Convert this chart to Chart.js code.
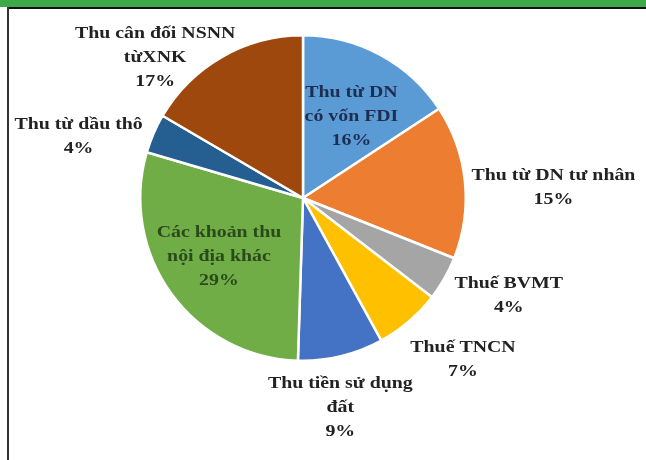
<!DOCTYPE html>
<html>
<head>
<meta charset="utf-8">
<script src="https://cdn.jsdelivr.net/npm/chart.js@4"></script>
<style>
  html, body { margin: 0; padding: 0; background: #fff; }
  #wrap { position: relative; width: 646px; height: 460px; overflow: hidden; background: #fff; }
  #topbar { position: absolute; left: 0; top: 0; width: 646px; height: 7px; background: #3daa4a; }
  #topline { position: absolute; left: 7px; top: 7px; width: 639px; height: 2px; background: #111; }
  #leftline { position: absolute; left: 7px; top: 7px; width: 2px; height: 453px; background: #333; }
  canvas { position: absolute; left: 0; top: 0; }
</style>
</head>
<body>
<div id="wrap">
  <canvas id="c" width="646" height="460"></canvas>
  <div id="topbar"></div>
  <div id="topline"></div>
  <div id="leftline"></div>
</div>
<script>
// ---- data ----
const categories = [
  ["Thu từ DN", "có vốn FDI"],
  ["Thu từ DN tư nhân"],
  ["Thuế BVMT"],
  ["Thuế TNCN"],
  ["Thu tiền sử dụng", "đất"],
  ["Các khoản thu", "nội địa khác"],
  ["Thu từ dầu thô"],
  ["Thu cân đối NSNN", "từXNK"]
];
const values = [15.8, 15.3, 4.4, 6.6, 8.5, 29.1, 3.9, 16.6];
const percentLabels = ["16%", "15%", "4%", "7%", "9%", "29%", "4%", "17%"];

// ---- styles ----
const colors = ["#5b9bd5", "#ed7d31", "#a5a5a5", "#ffc000", "#4472c4", "#70ad47", "#255e91", "#9e480e"];
const textColors = ["#1f2d4f", "#222", "#222", "#222", "#222", "#2b4a1c", "#222", "#222"];
// label placement: [radius factor, angle offset in degrees]
const placement = [[0.58, 2.5], [1.54, 3.5], [1.40, -4.2], [1.40, -4], [1.31, 3.4], [0.63, 1], [1.43, -8], [1.25, -16.8]];

const labelPlugin = {
  id: 'sliceLabels',
  afterDatasetsDraw(chart) {
    const ctx = chart.ctx;
    const meta = chart.getDatasetMeta(0);
    const sx = 1.24;
    ctx.save();
    ctx.font = "bold 16px 'Liberation Serif', 'DejaVu Serif', serif";
    ctx.textAlign = 'center';
    ctx.textBaseline = 'middle';
    meta.data.forEach((arc, i) => {
      const p = arc.getProps(['x', 'y', 'startAngle', 'endAngle', 'outerRadius'], true);
      const mid = (p.startAngle + p.endAngle) / 2 + placement[i][1] * Math.PI / 180;
      const r = p.outerRadius * placement[i][0];
      const cx = p.x + Math.cos(mid) * r;
      const cy = p.y + Math.sin(mid) * r;
      const lines = categories[i].concat([percentLabels[i]]);
      const lh = 24;
      const y0 = cy - (lines.length - 1) * lh / 2;
      ctx.fillStyle = textColors[i];
      lines.forEach((t, j) => {
        ctx.save();
        ctx.translate(cx, y0 + j * lh);
        ctx.scale(sx, 1);
        ctx.fillText(t, 0, 0);
        ctx.restore();
      });
    });
    ctx.restore();
  }
};

new Chart(document.getElementById('c'), {
  type: 'pie',
  data: {
    labels: categories.map(c => c.join(' ')),
    datasets: [{
      data: values,
      backgroundColor: colors,
      borderColor: '#ffffff',
      borderWidth: 2.5
    }]
  },
  options: {
    responsive: false,
    animation: false,
    layout: { padding: { left: 139, right: 179, top: 33, bottom: 97 } },
    plugins: {
      legend: { display: false },
      tooltip: { enabled: false }
    }
  },
  plugins: [labelPlugin]
});
</script>
</body>
</html>
